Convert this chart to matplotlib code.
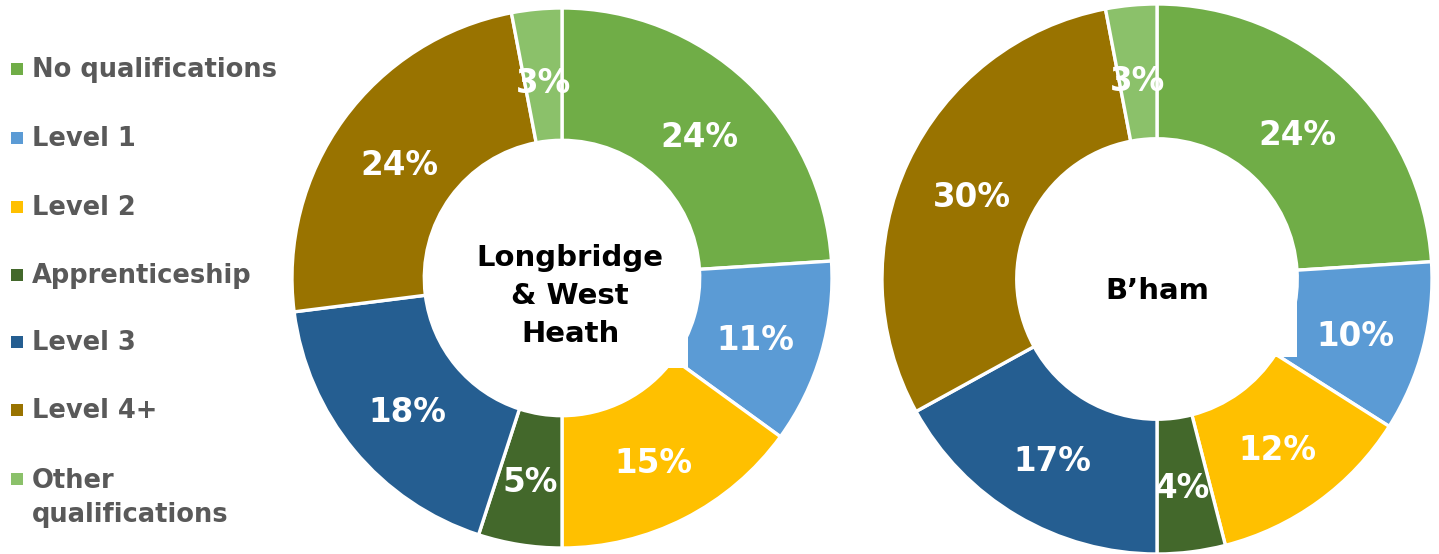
"""
Qualifications donut charts: Longbridge & West Heath vs Birmingham
"""

import numpy as np
import matplotlib.pyplot as plt
from matplotlib.patches import Rectangle

categories = ['No qualifications', 'Level 1', 'Level 2', 'Apprenticeship',
              'Level 3', 'Level 4+', 'Other\nqualifications']
longbridge = [24, 11, 15, 5, 18, 24, 3]
birmingham = [24, 10, 12, 4, 17, 30, 3]
colors = ['#70AD47', '#5B9BD5', '#FFC000', '#43682B',
          '#255E91', '#997300', '#8BC16A']

W, H = 1439, 554
DPI = 100
FONT = 'DejaVu Sans'


def donut(fig, cx, cy, r, values, title, title_xy, box):
    """Draw one donut centred at pixel (cx, cy) with outer radius r px."""
    half = 285
    ax = fig.add_axes([(cx - half) / W, (H - cy - half) / H,
                       2 * half / W, 2 * half / H])
    lim = half / r
    ax.pie(values, colors=colors, radius=1.0, startangle=90,
           counterclock=False,
           wedgeprops=dict(width=0.49, edgecolor='white', linewidth=2.4))
    # labels in the middle of the ring, nudged down a touch
    total = sum(values)
    cum = 0
    for v in values:
        mid = (cum + v / 2) / total
        ang = np.pi / 2 - 2 * np.pi * mid
        rr = 0.745
        ax.text(rr * np.cos(ang), rr * np.sin(ang) - 0.022, f'{v}%',
                color='white', ha='center', va='center', fontsize=23.5,
                fontweight='bold', family=FONT)
        cum += v
    # white text box overlapping the ring (as in the source chart)
    x0, y0, x1, y1 = box
    ax.add_patch(Rectangle((x0, y0), x1 - x0, y1 - y0, facecolor='white',
                           edgecolor='none', zorder=3))
    ax.text(title_xy[0], title_xy[1], title, color='black', ha='center',
            va='center', fontsize=21, fontweight='bold', family=FONT,
            linespacing=1.45, zorder=4)
    ax.set_xlim(-lim, lim)
    ax.set_ylim(-lim, lim)
    ax.set_aspect('equal')
    ax.axis('off')
    return ax


if __name__ == '__main__':
    fig = plt.figure(figsize=(W / DPI, H / DPI), dpi=DPI)

    donut(fig, 562, 278, 270, longbridge, 'Longbridge\n& West\nHeath',
          (0.03, -0.067), (-0.33, -0.333, 0.467, 0.08))
    donut(fig, 1157, 279, 275, birmingham, 'B\u2019ham',
          (0.0, -0.045), (-0.38, -0.285, 0.509, 0.07))

    # legend
    legend_y = [69, 138, 207, 275, 342, 410, 479]
    for cat, col, y in zip(categories, colors, legend_y):
        fig.patches.append(Rectangle((11 / W, (H - y - 6) / H), 12 / W,
                                     12 / H, transform=fig.transFigure,
                                     facecolor=col, edgecolor='none'))
        lines = cat.count('\n')
        ty = y + 1 + lines * 35 / 2
        fig.text(32 / W, (H - ty) / H, cat, color='#595959', ha='left',
                 va='center', fontsize=18.5, fontweight='bold', family=FONT,
                 linespacing=1.4)
    fig.savefig('out.png', dpi=DPI)
